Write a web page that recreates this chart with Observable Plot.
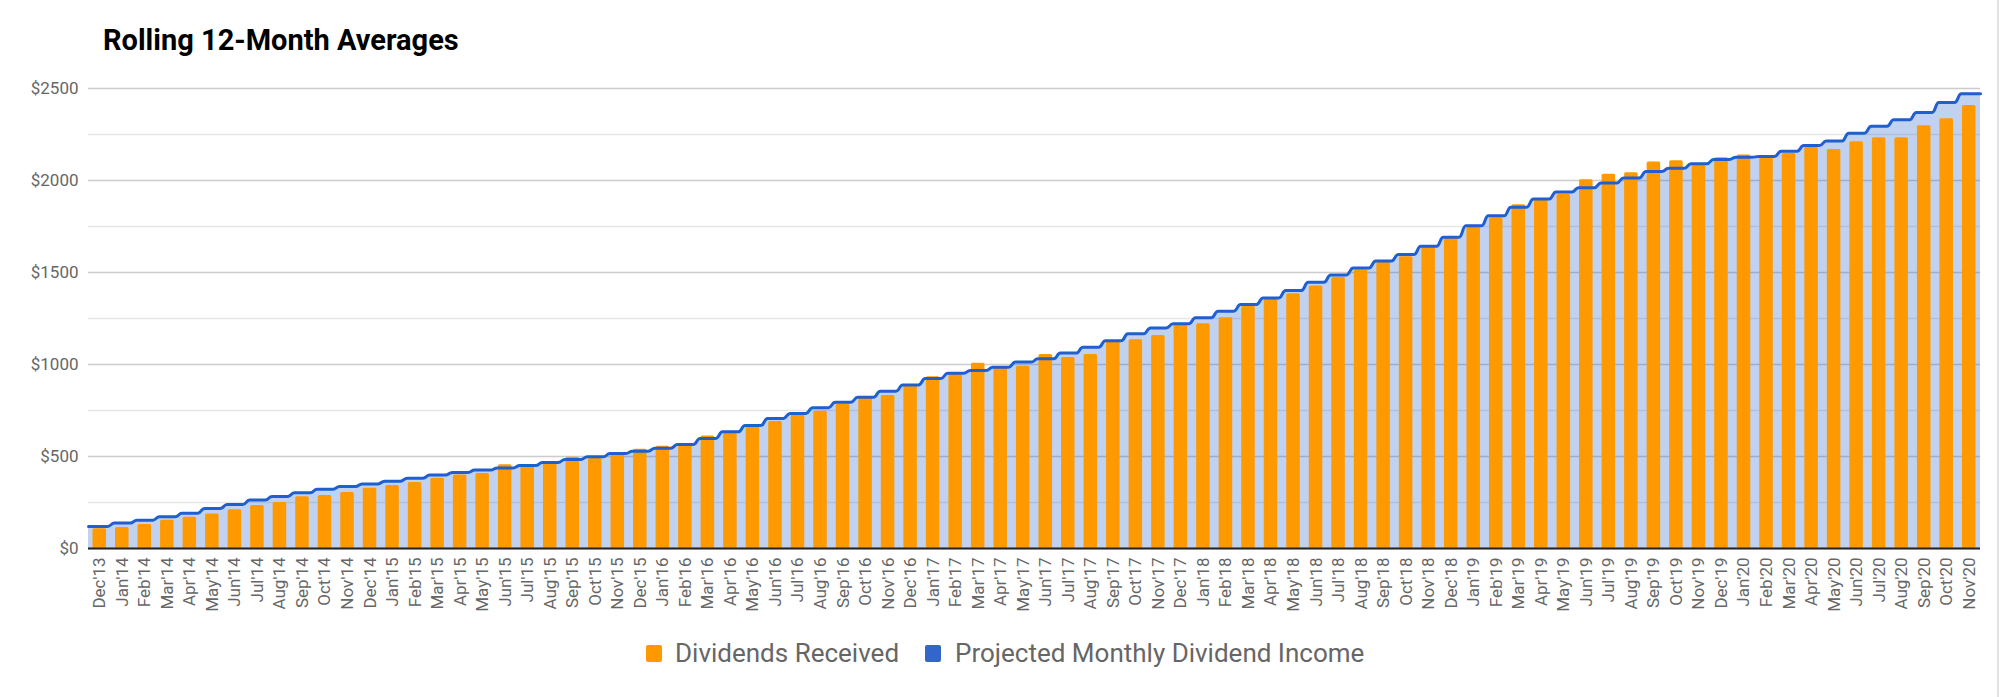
<!DOCTYPE html>
<html>
<head>
<meta charset="utf-8">
<script src="https://cdn.jsdelivr.net/npm/d3@7"></script>
<script src="https://cdn.jsdelivr.net/npm/@observablehq/plot@0.6"></script>
<style>
  html, body { margin: 0; padding: 0; background: #fff; }
  body { width: 2000px; height: 697px; position: relative; overflow: hidden; font-family: Roboto, "Noto Sans", sans-serif; }
  #title { position: absolute; left: 103px; top: 26px; font-size: 29px; line-height: 29px; font-weight: bold; color: #000; white-space: nowrap; }
  #chart { position: absolute; left: 0; top: 70px; }
  #legend { position: absolute; left: 646px; top: 640px; height: 26px; display: flex; align-items: center; font-size: 26px; line-height: 26px; color: #666; white-space: nowrap; }
  .sw { width: 16px; height: 17px; border-radius: 2px; display: inline-block; }
  #edge { position: absolute; left: 1997px; top: 0; width: 2px; height: 697px; background: #e2e2e2; }
</style>
</head>
<body>
<div id="title">Rolling 12-Month Averages</div>
<div id="chart"></div>
<div id="legend"></div>
<div id="edge"></div>
<script>
const labels = [
  "Dec'13",
  "Jan'14","Feb'14","Mar'14","Apr'14","May'14","Jun'14","Jul'14","Aug'14","Sep'14","Oct'14","Nov'14","Dec'14",
  "Jan'15","Feb'15","Mar'15","Apr'15","May'15","Jun'15","Jul'15","Aug'15","Sep'15","Oct'15","Nov'15","Dec'15",
  "Jan'16","Feb'16","Mar'16","Apr'16","May'16","Jun'16","Jul'16","Aug'16","Sep'16","Oct'16","Nov'16","Dec'16",
  "Jan'17","Feb'17","Mar'17","Apr'17","May'17","Jun'17","Jul'17","Aug'17","Sep'17","Oct'17","Nov'17","Dec'17",
  "Jan'18","Feb'18","Mar'18","Apr'18","May'18","Jun'18","Jul'18","Aug'18","Sep'18","Oct'18","Nov'18","Dec'18",
  "Jan'19","Feb'19","Mar'19","Apr'19","May'19","Jun'19","Jul'19","Aug'19","Sep'19","Oct'19","Nov'19","Dec'19",
  "Jan'20","Feb'20","Mar'20","Apr'20","May'20","Jun'20","Jul'20","Aug'20","Sep'20","Oct'20","Nov'20"
];

// Dividends Received (bars)
const received = [
  107,
  114, 130, 154, 170, 187, 210, 234, 250, 281, 288, 304, 328,
  342, 359, 382, 399, 408, 455, 447, 462, 496, 489, 511, 540,
  556, 560, 611, 627, 661, 690, 728, 746, 784, 817, 832, 884,
  933, 946, 1007, 984, 991, 1054, 1038, 1054, 1129, 1134, 1158, 1217,
  1221, 1254, 1315, 1353, 1384, 1426, 1473, 1513, 1554, 1585, 1636, 1685,
  1745, 1797, 1868, 1895, 1924, 2004, 2034, 2042, 2100, 2107, 2091, 2123,
  2138, 2129, 2147, 2181, 2168, 2210, 2232, 2232, 2297, 2335, 2408
];

// Projected Monthly Dividend Income (stepped area)
const projected = [
  120,
  138, 154, 172, 192, 217, 239, 263, 283, 303, 322, 337, 351,
  366, 382, 399, 413, 426, 438, 451, 467, 484, 498, 516, 529,
  545, 565, 598, 634, 668, 707, 734, 765, 795, 822, 855, 888,
  924, 953, 967, 985, 1013, 1031, 1062, 1094, 1129, 1167, 1199, 1221,
  1254, 1290, 1326, 1362, 1402, 1447, 1487, 1525, 1562, 1598, 1643, 1692,
  1754, 1808, 1855, 1900, 1937, 1960, 1986, 2014, 2049, 2067, 2091, 2114,
  2127, 2130, 2159, 2190, 2214, 2257, 2295, 2330, 2370, 2424, 2471
];

const majorTicks = [0, 500, 1000, 1500, 2000, 2500];
const minorTicks = [250, 750, 1250, 1750, 2250];

const seriesNames = ["Dividends Received", "Projected Monthly Dividend Income"];
const seriesColors = ["#ff9900", "#3366cc"];

const table = labels.map((label, i) => ({i, label, received: received[i], projected: projected[i]}));
const n = table.length;
const eps = 0.15;
// each month's projected value held flat across its band, with rounded risers at band edges
const steps = table.flatMap(d => [
  {x: d.i - 0.5 + (d.i === 0 ? 0 : eps), y: d.projected},
  {x: d.i + 0.5 - (d.i === n - 1 ? 0 : eps), y: d.projected}
]);

const chart = Plot.plot({
  width: 2000,
  height: 560,
  marginTop: 18,
  marginBottom: 82,
  marginLeft: 88,
  marginRight: 20,
  style: {fontFamily: "Roboto, 'Noto Sans', sans-serif", fontSize: "17px", color: "#666", background: "transparent"},
  x: {domain: [-0.5, n - 0.5]},
  y: {domain: [0, 2500]},
  marks: [
    Plot.gridY(minorTicks, {stroke: "#e6e6e6", strokeOpacity: 1, strokeWidth: 1.5}),
    Plot.gridY(majorTicks, {stroke: "#cccccc", strokeOpacity: 1, strokeWidth: 1.5}),
    Plot.areaY(steps, {x: "x", y: "y", curve: "bump-x", fill: seriesColors[1], fillOpacity: 0.3}),
    Plot.rectY(table, {x1: d => d.i - 0.3, x2: d => d.i + 0.3, y: "received", fill: seriesColors[0], rx: 1.5}),
    Plot.lineY(steps, {x: "x", y: "y", curve: "bump-x", stroke: "#1f5fd0", strokeWidth: 3, strokeLinejoin: "round"}),
    Plot.ruleY([0], {stroke: "#222", strokeWidth: 2}),
    Plot.axisY({ticks: majorTicks, tickFormat: d => "$" + d, tickSize: 0, tickPadding: 10, fontSize: 17}),
    Plot.axisX({ticks: table.map(d => d.i), tickFormat: i => labels[i], tickRotate: -90, tickSize: 0, tickPadding: 9, fontSize: 17, label: null})
  ]
});
document.getElementById("chart").appendChild(chart);

const legend = document.getElementById("legend");
seriesNames.forEach((name, k) => {
  const sw = document.createElement("span");
  sw.className = "sw";
  sw.style.background = seriesColors[k];
  sw.style.marginLeft = k === 0 ? "0px" : "26px";
  sw.style.marginRight = k === 0 ? "13px" : "14px";
  const t = document.createElement("span");
  t.textContent = name;
  legend.appendChild(sw);
  legend.appendChild(t);
});
</script>
</body>
</html>
